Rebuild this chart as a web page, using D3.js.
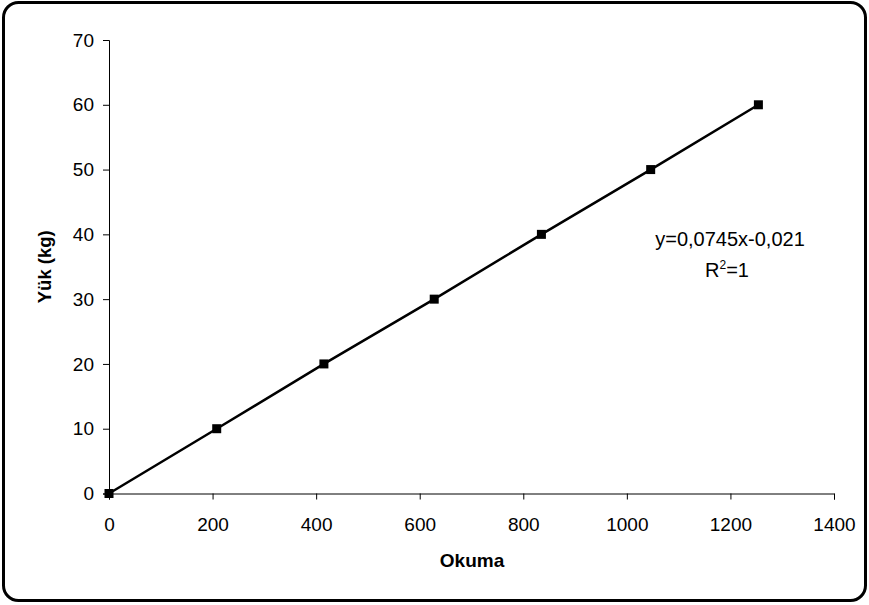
<!DOCTYPE html>
<html>
<head>
<meta charset="utf-8">
<script src="https://cdn.jsdelivr.net/npm/d3@7"></script>
<style>
  html, body { margin: 0; padding: 0; background: #fff; }
  svg { display: block; }
  text { font-family: "Liberation Sans", Arial, sans-serif; fill: #000; }
</style>
</head>
<body>
<svg id="chart" width="869" height="605"></svg>
<script>
const okuma = [0, 208, 415, 628, 835, 1046, 1254];
const yuk = [0, 10, 20, 30, 40, 50, 60];
const xTicks = [0, 200, 400, 600, 800, 1000, 1200, 1400];
const yTicks = [0, 10, 20, 30, 40, 50, 60, 70];
const xTitle = "Okuma";
const yTitle = "Yük (kg)";
const equation = "y=0,0745x-0,021";

const svg = d3.select("#chart");

svg.append("rect")
  .attr("x", 3.5).attr("y", 2.5)
  .attr("width", 862).attr("height", 598)
  .attr("rx", 15).attr("ry", 15)
  .attr("fill", "#fff").attr("stroke", "#000").attr("stroke-width", 3);

const x = d3.scaleLinear().domain([0, 1400]).range([109, 834]);
const y = d3.scaleLinear().domain([0, 70]).range([493.5, 40]);

const xAxis = svg.append("g")
  .attr("transform", `translate(0,${y(0)})`)
  .call(d3.axisBottom(x).tickValues(xTicks).tickSize(6).tickPadding(18).tickFormat(d3.format("d")));
const yAxis = svg.append("g")
  .attr("transform", `translate(${x(0)},0)`)
  .call(d3.axisLeft(y).tickValues(yTicks).tickSize(6).tickPadding(9).tickFormat(d3.format("d")));

[xAxis, yAxis].forEach(g => {
  g.select(".domain").attr("stroke", "#000").attr("stroke-width", 1);
  g.selectAll(".tick line").attr("stroke", "#000").attr("stroke-width", 1);
  g.selectAll(".tick text")
    .style("font-family", "'Liberation Sans', Arial, sans-serif")
    .style("font-size", "19px").attr("fill", "#000");
});

const pts = okuma.map((v, i) => [v, yuk[i]]);

svg.append("path")
  .datum(pts)
  .attr("fill", "none").attr("stroke", "#000").attr("stroke-width", 2.5)
  .attr("d", d3.line().x(d => x(d[0])).y(d => y(d[1])));

const ms = 9;
svg.selectAll("rect.marker").data(pts).enter().append("rect")
  .attr("class", "marker")
  .attr("x", d => x(d[0]) - ms / 2).attr("y", d => y(d[1]) - ms / 2)
  .attr("width", ms).attr("height", ms).attr("fill", "#000");

svg.append("text")
  .attr("x", 472).attr("y", 567)
  .attr("text-anchor", "middle")
  .style("font-size", "19px").style("font-weight", "bold")
  .text(xTitle);

svg.append("text")
  .attr("transform", `translate(51,${(y(0) + y(70)) / 2}) rotate(-90)`)
  .attr("text-anchor", "middle")
  .style("font-size", "18.5px").style("font-weight", "bold")
  .text(yTitle);

svg.append("text")
  .attr("x", 730).attr("y", 246)
  .attr("text-anchor", "middle")
  .style("font-size", "20px")
  .text(equation);

const r2 = svg.append("text")
  .attr("x", 727).attr("y", 277)
  .attr("text-anchor", "middle")
  .style("font-size", "20px");
r2.append("tspan").text("R");
r2.append("tspan").attr("dy", -8).style("font-size", "12px").text("2");
r2.append("tspan").attr("dy", 8).text("=1");
</script>
</body>
</html>
